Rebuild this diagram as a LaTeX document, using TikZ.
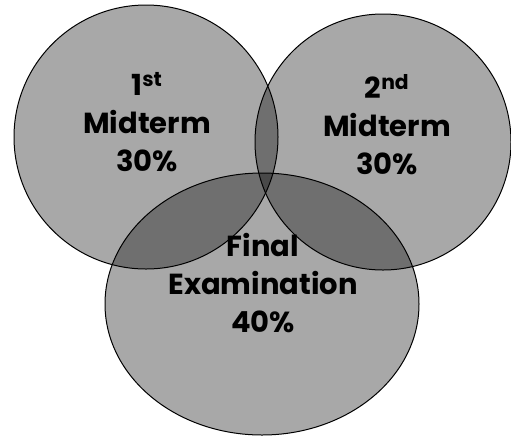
\documentclass[tikz,border=0pt]{standalone}
\usepackage{fontspec}
\setsansfont{Poppins}
\usepackage{tikz}

\begin{document}
\begin{tikzpicture}[x=1pt, y=-1pt,
    venn/.style={draw=black, line width=1pt, fill=black, fill opacity=0.34},
    label/.style={align=center, font=\sffamily\bfseries\fontsize{29}{38}\selectfont, text=black}]
    \useasboundingbox (0,0) rectangle (511,437);

    % Circles
    \filldraw[venn] (146,137) circle (132pt);
    \filldraw[venn] (383,142) circle (128pt);
    \filldraw[venn] (262,304) ellipse [x radius=157pt, y radius=131pt];

    % Labels
    \node[label] (first) at (147,122) {1\textsuperscript{st}\\Midterm\\30\%};
    \node[label] (second) at (387,125) {2\textsuperscript{nd}\\Midterm\\30\%};
    \node[label] (final) at (263,283) {Final\\Examination\\40\%};
\end{tikzpicture}
\end{document}
